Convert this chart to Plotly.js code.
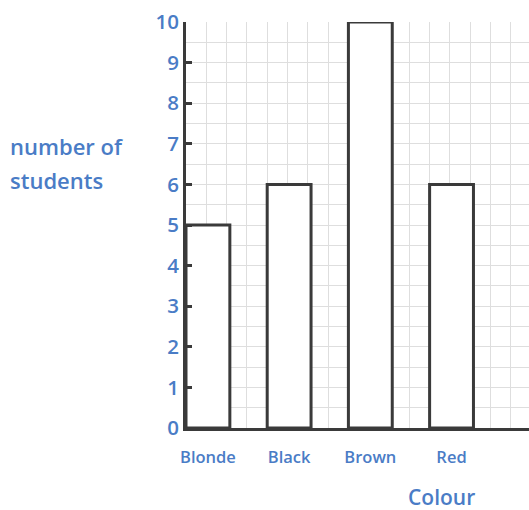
<!DOCTYPE html>
<html>
<head>
<meta charset="utf-8">
<script src="https://cdn.plot.ly/plotly-3.0.1.min.js"></script>
<style>html,body{margin:0;padding:0;background:#fff;}#chart{width:529px;height:510px;}</style>
</head>
<body>
<div id="chart"></div>
<script>
const categories = ['Blonde', 'Black', 'Brown', 'Red'];
const students = [5, 6, 10, 6];
const yTickVals = [0, 1, 2, 3, 4, 5, 6, 7, 8, 9, 10];
const yAxisLabelLines = ['number of', 'students'];
const xAxisLabel = 'Colour';

const blue = '#4a7cc6';
const ink = '#3a3a3a';
const fontFamily = '"Open Sans", "DejaVu Sans", sans-serif';
const xPos = categories.map((c, i) => i);

const trace = {
  type: 'bar',
  x: xPos,
  y: students,
  width: 0.54,
  marker: { color: '#ffffff', line: { color: ink, width: 3 } },
  cliponaxis: false,
  hoverinfo: 'skip'
};

const plotW = 343, plotH = 406, ml = 186, mt = 22;
const px = (x) => (x - ml) / plotW;
const py = (y) => (mt + plotH - y) / plotH;

const layout = {
  width: 529,
  height: 510,
  margin: { l: ml, r: 0, t: mt, b: 82 },
  paper_bgcolor: '#ffffff',
  plot_bgcolor: '#ffffff',
  showlegend: false,
  font: { family: fontFamily, color: blue },
  xaxis: {
    range: [-0.27, 3.954],
    tickvals: xPos,
    ticktext: categories,
    ticks: '',
    showgrid: false,
    zeroline: false,
    showline: true,
    linecolor: ink,
    linewidth: 3,
    ticklabelstandoff: 12,
    tickfont: { family: fontFamily, size: 16.5, color: blue, weight: 600 },
    minor: { tick0: -0.27, dtick: 0.25, showgrid: true, gridcolor: '#dedede', gridwidth: 1, ticks: '' }
  },
  yaxis: {
    range: [0, 10],
    tickvals: yTickVals,
    ticks: 'inside',
    ticklen: 6,
    tickwidth: 3,
    tickcolor: ink,
    showgrid: true,
    gridcolor: '#dedede',
    gridwidth: 1,
    zeroline: false,
    showline: true,
    linecolor: ink,
    linewidth: 3,
    ticklabelstandoff: 0,
    tickfont: { family: fontFamily, size: 20.5, color: blue, weight: 600 },
    minor: { dtick: 0.5, showgrid: true, gridcolor: '#dedede', gridwidth: 1, ticks: '' }
  },
  annotations: [
    {
      text: yAxisLabelLines[0], xref: 'paper', yref: 'paper', x: px(8), y: py(146),
      xanchor: 'left', yanchor: 'middle', align: 'left', showarrow: false,
      font: { family: fontFamily, size: 22, color: blue, weight: 600 }
    },
    {
      text: yAxisLabelLines[1], xref: 'paper', yref: 'paper', x: px(8), y: py(180),
      xanchor: 'left', yanchor: 'middle', align: 'left', showarrow: false,
      font: { family: fontFamily, size: 22, color: blue, weight: 600 }
    },
    {
      text: xAxisLabel, xref: 'paper', yref: 'paper', x: px(441), y: py(497),
      xanchor: 'center', yanchor: 'middle', showarrow: false,
      font: { family: fontFamily, size: 21, color: blue, weight: 600 }
    }
  ]
};

Plotly.newPlot('chart', [trace], layout, { displayModeBar: false, staticPlot: true });
</script>
</body>
</html>
